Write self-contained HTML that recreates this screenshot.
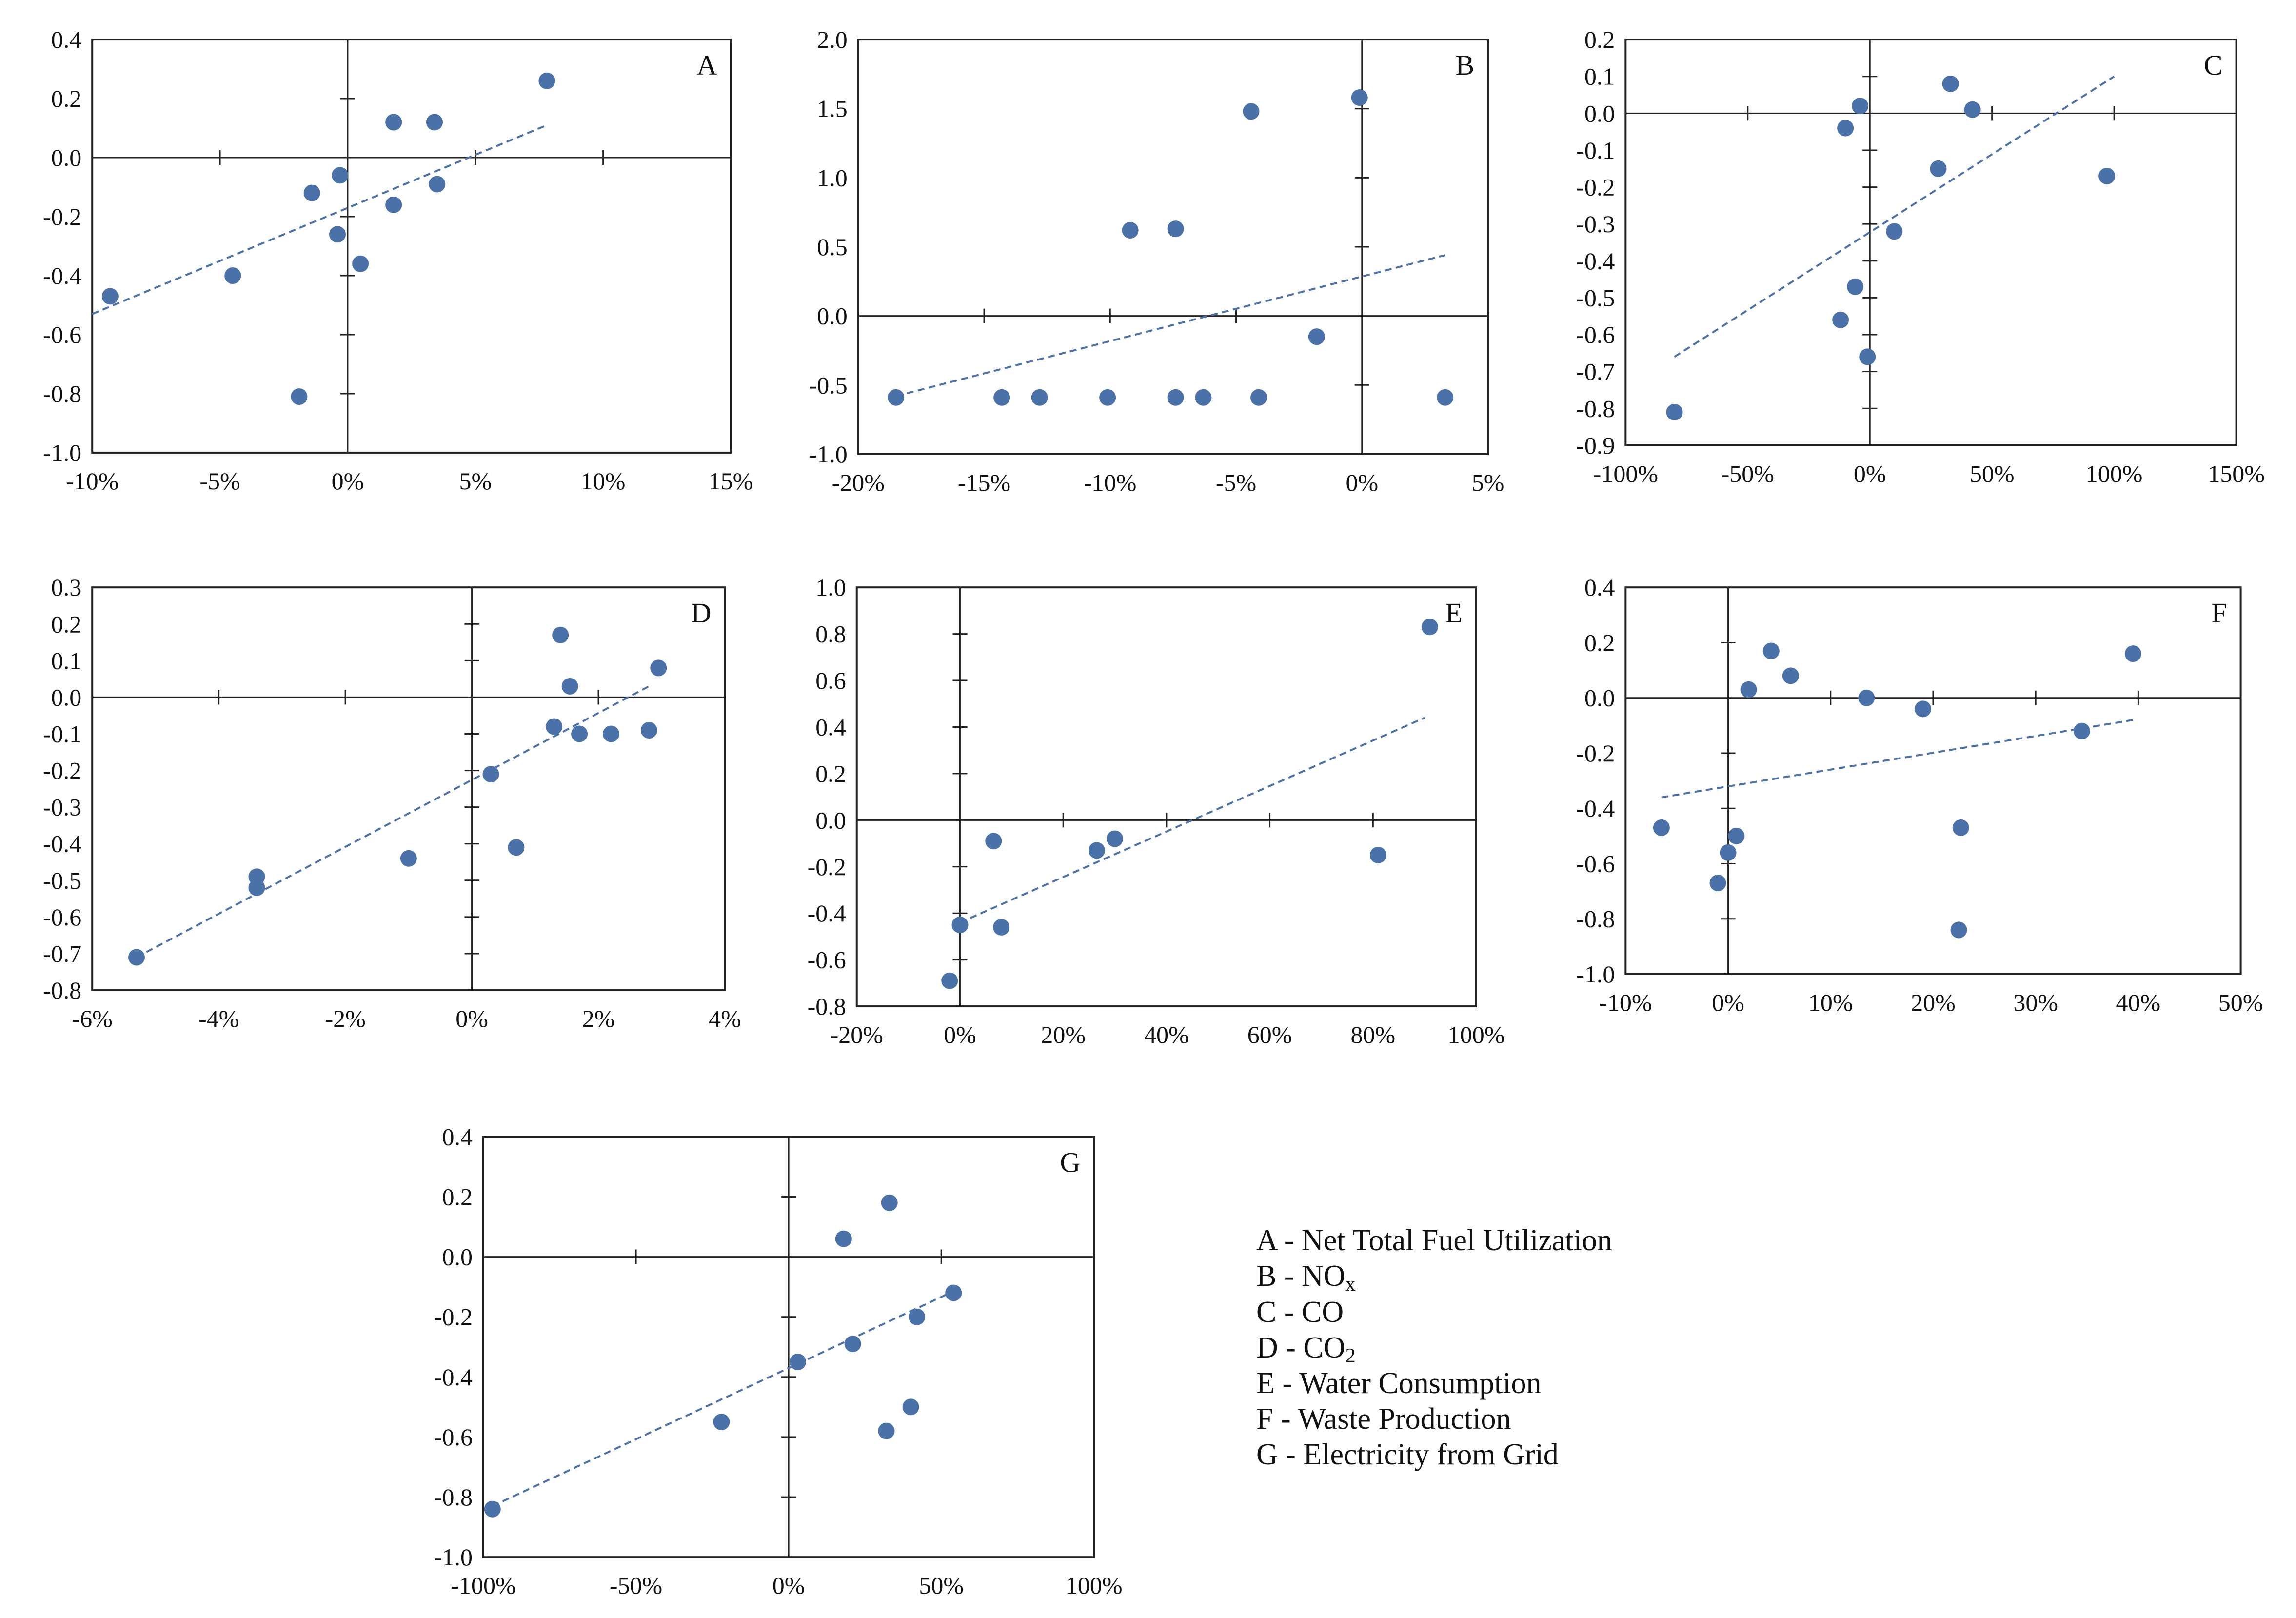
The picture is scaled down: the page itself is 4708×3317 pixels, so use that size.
<!DOCTYPE html>
<html><head><meta charset="utf-8"><style>
html,body{margin:0;padding:0;background:#fff;}
svg{display:block;font-family:"Liberation Serif",serif;}
</style></head><body>
<svg id="chart" xmlns="http://www.w3.org/2000/svg" width="4708" height="3317" viewBox="0 0 4708 3317">
<rect width="4708" height="3317" fill="#fff"/>
<g font-size="62" fill="#111" style="white-space:pre">
<text x="2576" y="2563">A -  Net Total Fuel Utilization</text>
<text x="2576" y="2636">B -  NO<tspan font-size="42" dy="10">x</tspan></text>
<text x="2576" y="2710">C -  CO</text>
<text x="2576" y="2783">D -  CO<tspan font-size="42" dy="10">2</tspan></text>
<text x="2576" y="2856">E -  Water Consumption</text>
<text x="2576" y="2929">F  -  Waste Production</text>
<text x="2576" y="3002">G -  Electricity from Grid</text>
</g>
</svg>
<script>
// ---- data arrays (x in %, y dimensionless) ----
const panelLetters = ["A","B","C","D","E","F","G"];
const aX = [-9.3,-4.5,-1.9,-1.4,-0.4,-0.3,0.5,1.8,1.8,3.4,3.5,7.8];
const aY = [-0.47,-0.40,-0.81,-0.12,-0.26,-0.06,-0.36,0.12,-0.16,0.12,-0.09,0.26];
const aTrend = [[-10,-0.53],[7.8,0.11]];
const bX = [-18.5,-14.3,-12.8,-10.1,-9.2,-7.4,-7.4,-6.3,-4.4,-4.1,-1.8,-0.1,3.3];
const bY = [-0.59,-0.59,-0.59,-0.59,0.62,0.63,-0.59,-0.59,1.48,-0.59,-0.15,1.58,-0.59];
const bTrend = [[-18.5,-0.58],[3.3,0.44]];
const cX = [-80,-10,-4,-6,-12,-1,10,28,33,42,97];
const cY = [-0.81,-0.04,0.02,-0.47,-0.56,-0.66,-0.32,-0.15,0.08,0.01,-0.17];
const cTrend = [[-80,-0.66],[100,0.10]];
const dX = [-5.3,-3.4,-3.4,-1.0,0.3,0.7,1.3,1.4,1.55,1.7,2.2,2.8,2.95];
const dY = [-0.71,-0.49,-0.52,-0.44,-0.21,-0.41,-0.08,0.17,0.03,-0.10,-0.10,-0.09,0.08];
const dTrend = [[-5.3,-0.71],[2.8,0.03]];
const eX = [-2,0,6.5,8,26.5,30,81,91];
const eY = [-0.69,-0.45,-0.09,-0.46,-0.13,-0.08,-0.15,0.83];
const eTrend = [[0,-0.44],[90,0.44]];
const fX = [-6.5,-1,0,0.8,2,4.2,6.1,13.5,19,22.5,22.7,34.5,39.5];
const fY = [-0.47,-0.67,-0.56,-0.50,0.03,0.17,0.08,0.00,-0.04,-0.84,-0.47,-0.12,0.16];
const fTrend = [[-6.5,-0.36],[39.5,-0.08]];
const gX = [-97,-22,3,18,21,32,33,40,42,54];
const gY = [-0.84,-0.55,-0.35,0.06,-0.29,-0.58,0.18,-0.50,-0.20,-0.12];
const gTrend = [[-97,-0.83],[55,-0.11]];
const xTickA=[-10,-5,0,5,10,15], yTickA=[-1.0,-0.8,-0.6,-0.4,-0.2,0.0,0.2,0.4];
const xTickB=[-20,-15,-10,-5,0,5], yTickB=[-1.0,-0.5,0.0,0.5,1.0,1.5,2.0];
const xTickC=[-100,-50,0,50,100,150], yTickC=[-0.9,-0.8,-0.7,-0.6,-0.5,-0.4,-0.3,-0.2,-0.1,0.0,0.1,0.2];
const xTickD=[-6,-4,-2,0,2,4], yTickD=[-0.8,-0.7,-0.6,-0.5,-0.4,-0.3,-0.2,-0.1,0.0,0.1,0.2,0.3];
const xTickE=[-20,0,20,40,60,80,100], yTickE=[-0.8,-0.6,-0.4,-0.2,0.0,0.2,0.4,0.6,0.8,1.0];
const xTickF=[-10,0,10,20,30,40,50], yTickF=[-1.0,-0.8,-0.6,-0.4,-0.2,0.0,0.2,0.4];
const xTickG=[-100,-50,0,50,100], yTickG=[-1.0,-0.8,-0.6,-0.4,-0.2,0.0,0.2,0.4];

const S=3.003;
const panels=[
 {L:"A",box:[63,27,499,309],xs:xTickA,ys:yTickA,x:aX,y:aY,t:aTrend},
 {L:"B",box:[586,27,1016,310],xs:xTickB,ys:yTickB,x:bX,y:bY,t:bTrend},
 {L:"C",box:[1110,27,1527,304],xs:xTickC,ys:yTickC,x:cX,y:cY,t:cTrend},
 {L:"D",box:[63,401,495,676],xs:xTickD,ys:yTickD,x:dX,y:dY,t:dTrend},
 {L:"E",box:[585,401,1008,687],xs:xTickE,ys:yTickE,x:eX,y:eY,t:eTrend},
 {L:"F",box:[1110,401,1530,665],xs:xTickF,ys:yTickF,x:fX,y:fY,t:fTrend},
 {L:"G",box:[330,776,747,1063],xs:xTickG,ys:yTickG,x:gX,y:gY,t:gTrend}
];
const NS="http://www.w3.org/2000/svg";
const svg=document.getElementById('chart');
function mk(tag,attrs,parent){const e=document.createElementNS(NS,tag);for(const k in attrs)e.setAttribute(k,attrs[k]);parent.appendChild(e);return e;}
panels.forEach(p=>{
 const x0=p.box[0]*S,y0=p.box[1]*S,x1=p.box[2]*S,y1=p.box[3]*S;
 const xmin=p.xs[0],xmax=p.xs[p.xs.length-1],ymin=p.ys[0],ymax=p.ys[p.ys.length-1];
 const sx=v=>x0+(v-xmin)/(xmax-xmin)*(x1-x0);
 const sy=v=>y1-(v-ymin)/(ymax-ymin)*(y1-y0);
 const g=mk('g',{},svg);
 
 
 const r=mk('rect',{x:x0,y:y0,width:x1-x0,height:y1-y0,fill:'none',stroke:'#222','stroke-width':4},g);
 
 
 const zx=sx(0),zy=sy(0);
 const ax=mk('line',{x1:x0,x2:x1,y1:zy,y2:zy,stroke:'#222','stroke-width':3},g);
 
 
 const ay=mk('line',{x1:zx,x2:zx,y1:y0,y2:y1,stroke:'#222','stroke-width':3},g);
 
 
 p.xs.forEach(v=>{
  if(v!==xmin&&v!==xmax&&v!==0){const t=mk('line',{x1:sx(v),x2:sx(v),y1:zy-15,y2:zy+15,stroke:'#222','stroke-width':3},g);
  
  }
  const tx=mk('text',{x:sx(v),y:y1+75,'font-size':50,'text-anchor':'middle',fill:'#111'},g);
  tx.textContent=v+'%';
  
  
 });
 p.ys.forEach(v=>{
  if(v!==ymin&&v!==ymax&&Math.abs(v)>1e-9){const t=mk('line',{x1:zx-15,x2:zx+15,y1:sy(v),y2:sy(v),stroke:'#222','stroke-width':3},g);
  
  }
  const ty=mk('text',{x:x0-22,y:sy(v)+17,'font-size':50,'text-anchor':'end',fill:'#111'},g);
  ty.textContent=v.toFixed(1);
  
  
 });
 const tl=mk('line',{x1:sx(p.t[0][0]),y1:sy(p.t[0][1]),x2:sx(p.t[1][0]),y2:sy(p.t[1][1]),stroke:'#4a72a8','stroke-width':4,'stroke-dasharray':'14 9'},g);
 
 
 p.x.forEach((v,i)=>{
  const c=mk('circle',{cx:sx(v),cy:sy(p.y[i]),r:17,fill:'#4a72a8'},g);
  
  
 });
 const lt=mk('text',{x:x1-28,y:y0+72,'font-size':58,'text-anchor':'end',fill:'#111'},g);
 lt.textContent=p.L;
 
 
});
</script>
</body></html>
